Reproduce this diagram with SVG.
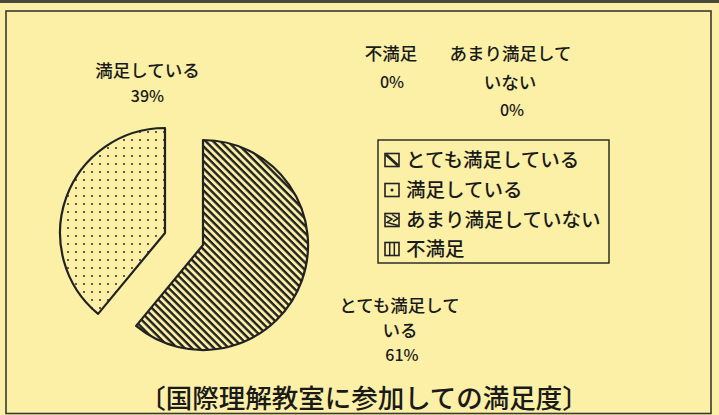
<svg xmlns="http://www.w3.org/2000/svg" width="719" height="415" viewBox="0 0 719 415">
  <style>
    .lbl { font-family: "Noto Sans CJK JP", "Noto Sans", sans-serif; font-size: 17.5px; font-weight: 500; fill: #1a1a1a; text-anchor: middle; }
    .pct { font-family: "Noto Sans CJK JP", "Noto Sans", sans-serif; font-size: 16px; font-weight: 500; fill: #1a1a1a; text-anchor: middle; }
    .leg { font-family: "Noto Sans CJK JP", "Noto Sans", sans-serif; font-size: 19.5px; font-weight: 500; fill: #1a1a1a; }
    .ttl { font-family: "Noto Sans CJK JP", "Noto Sans", sans-serif; font-size: 26.5px; font-weight: 500; fill: #1a1a1a; text-anchor: middle; }
    .slice { stroke: #222; stroke-width: 2.2; stroke-linejoin: round; }
    .ico { fill: #fbf0a6; stroke: #222; stroke-width: 1.6; }
    .icol { fill: none; stroke: #222; stroke-width: 1.5; }
  </style>
  <defs>
    <pattern id="hatch" patternUnits="userSpaceOnUse" width="10" height="5.2" patternTransform="rotate(45)">
      <rect x="0" y="0" width="10" height="5.2" fill="#fbf0a6"/>
      <rect x="0" y="0" width="10" height="2.4" fill="#222"/>
    </pattern>
    <pattern id="dots" patternUnits="userSpaceOnUse" width="8" height="8">
      <rect x="0" y="0" width="8" height="8" fill="#fbf0a6"/>
      <circle cx="4" cy="4" r="1" fill="#2a2a2a"/>
    </pattern>
  </defs>

  <rect id="background" x="0" y="0" width="719" height="415" fill="#fbf0a6"/>
  <rect id="scan-edge" x="0" y="0" width="719" height="3" fill="#4a4a3c"/>
  <rect id="frame" x="6" y="11" width="705" height="402.5" fill="none" stroke="#3a3a34" stroke-width="1.6"/>

  <g id="slice-very-satisfied">
    <path class="slice" fill="url(#hatch)" d="M203,245 V140 A105,105 0 1 1 136.1,325.9 Z"/>
  </g>
  <g id="slice-satisfied">
    <path class="slice" fill="url(#dots)" d="M165,233 L98.1,313.9 A105,105 0 0 1 165,128 Z"/>
  </g>

  <g id="label-satisfied">
    <text class="lbl" x="147.5" y="76.5">満足している</text>
    <text class="pct" x="147.5" y="102">39%</text>
  </g>
  <g id="label-dissatisfied">
    <text class="lbl" x="391" y="59.5">不満足</text>
    <text class="pct" x="392" y="88">0%</text>
  </g>
  <g id="label-not-very-satisfied">
    <text class="lbl" x="510.5" y="59.5">あまり満足して</text>
    <text class="lbl" x="510" y="88.5">いない</text>
    <text class="pct" x="512" y="116">0%</text>
  </g>
  <g id="label-very-satisfied">
    <text class="lbl" x="399.5" y="311.5">とても満足して</text>
    <text class="lbl" x="400" y="336.5">いる</text>
    <text class="pct" x="402" y="361">61%</text>
  </g>

  <g id="legend">
    <rect x="378" y="140" width="231" height="123" fill="none" stroke="#222" stroke-width="1.4"/>
    <g id="legend-very-satisfied">
      <rect class="ico" x="385" y="153.5" width="14" height="13"/>
      <line x1="386" y1="154.5" x2="398" y2="165.5" stroke="#222" stroke-width="2.8"/>
      <text class="leg" x="406" y="167.4">とても満足している</text>
    </g>
    <g id="legend-satisfied">
      <rect class="ico" x="385" y="183.5" width="14" height="13"/>
      <circle cx="392" cy="190" r="1.5" fill="#222"/>
      <text class="leg" x="406" y="197.4">満足している</text>
    </g>
    <g id="legend-not-very-satisfied">
      <rect class="ico" x="385" y="213.5" width="14" height="13"/>
      <path class="icol" d="M386,216 L392,219 L387,222.5 L398,225.5 M392,214.5 L398,218.5 L393,221.5"/>
      <text class="leg" x="406" y="227.4">あまり満足していない</text>
    </g>
    <g id="legend-dissatisfied">
      <rect class="ico" x="385" y="242.5" width="14" height="13"/>
      <line class="icol" x1="389.7" y1="243" x2="389.7" y2="255"/>
      <line class="icol" x1="394.3" y1="243" x2="394.3" y2="255"/>
      <text class="leg" x="406" y="256.4">不満足</text>
    </g>
  </g>

  <g id="title">
    <text class="ttl" x="364" y="408">〔国際理解教室に参加しての満足度〕</text>
  </g>
</svg>
